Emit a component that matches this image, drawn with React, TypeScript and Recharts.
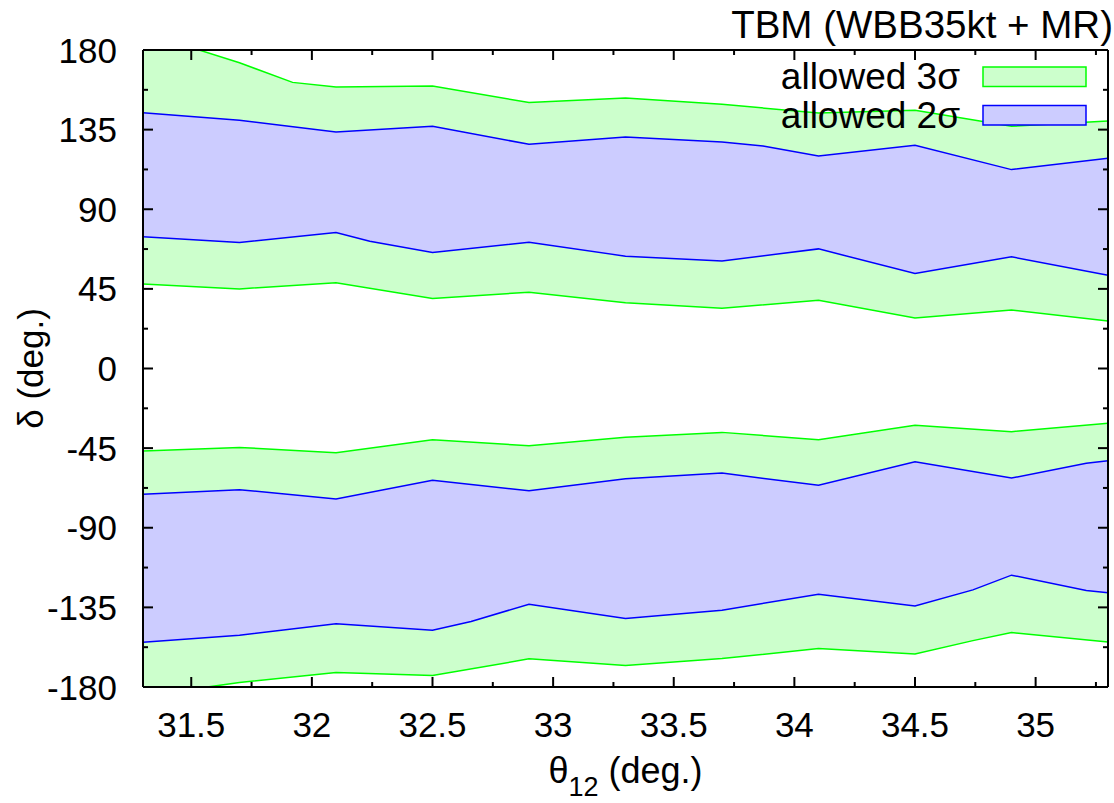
import { ComposedChart, Area, XAxis, YAxis, Legend } from "recharts";

const X_DOMAIN: [number, number] = [31.3, 35.3];
const Y_DOMAIN: [number, number] = [-180, 180];
const X_MAJOR_TICKS = [31.5, 32, 32.5, 33, 33.5, 34, 34.5, 35];
const X_MINOR_TICKS = [31.75, 32.25, 32.75, 33.25, 33.75, 34.25, 34.75, 35.25];
const Y_MAJOR_TICKS = [-180, -135, -90, -45, 0, 45, 90, 135, 180];
const Y_MINOR_TICKS = [-157.5, -112.5, -67.5, -22.5, 22.5, 67.5, 112.5, 157.5];

type Pt = [number, number];

// upper island (delta > 0)
const up3Hi: Pt[] = [
  [31.3, 190], [31.7, 172.8], [31.92, 161.7], [32.1, 159.1], [32.5, 159.6], [32.9, 150.3],
  [33.3, 152.9], [33.7, 149.3], [34.1, 144.4], [34.5, 145.9], [34.9, 136.9], [35.3, 139.9],
];
const up2Hi: Pt[] = [
  [31.3, 144.6], [31.7, 140.3], [32.1, 133.7], [32.5, 136.9], [32.9, 126.7], [33.3, 130.8],
  [33.7, 128.0], [33.87, 125.7], [34.1, 120.1], [34.5, 126.1], [34.9, 112.4], [35.3, 118.8],
];
const up2Lo: Pt[] = [
  [31.3, 74.4], [31.7, 71.2], [32.1, 76.9], [32.24, 71.9], [32.5, 65.6], [32.9, 71.4],
  [33.3, 63.5], [33.7, 60.8], [34.1, 67.6], [34.5, 53.7], [34.9, 63.1], [35.3, 52.7],
];
const up3Lo: Pt[] = [
  [31.3, 47.7], [31.7, 45.0], [32.1, 48.4], [32.5, 39.6], [32.9, 43.1], [33.3, 37.1],
  [33.7, 34.1], [34.1, 38.5], [34.5, 28.6], [34.9, 33.1], [35.3, 26.9],
];

// lower island (delta < 0)
const lo3Hi: Pt[] = [
  [31.3, -46.6], [31.7, -44.6], [32.1, -47.6], [32.5, -40.3], [32.9, -43.6], [33.3, -38.9],
  [33.7, -36.1], [34.1, -40.3], [34.5, -32.1], [34.9, -35.7], [35.3, -31.0],
];
const lo2Hi: Pt[] = [
  [31.3, -71.1], [31.7, -68.5], [32.1, -73.7], [32.5, -63.2], [32.9, -69.1], [33.3, -62.3],
  [33.7, -59.1], [34.1, -66.0], [34.5, -52.7], [34.9, -61.9], [35.21, -53.6], [35.3, -52.1],
];
const lo2Lo: Pt[] = [
  [31.3, -154.7], [31.7, -150.7], [32.1, -144.2], [32.5, -147.9], [32.66, -143.0], [32.9, -133.2],
  [33.3, -141.3], [33.7, -136.6], [34.1, -127.6], [34.5, -134.2], [34.74, -125.1], [34.9, -116.8],
  [35.21, -125.5], [35.3, -126.7],
];
const lo3Lo: Pt[] = [
  [31.3, -185], [31.7, -177.5], [32.1, -171.8], [32.5, -173.5], [32.9, -164.1], [33.3, -167.9],
  [33.7, -163.9], [34.1, -158.3], [34.5, -161.4], [34.74, -153.8], [34.9, -149.2], [35.3, -154.5],
];

const G_FILL = "#ccffcc";
const G_LINE = "#00ff00";
const B_FILL = "#ccccff";
const B_LINE = "#0000ff";

const SERIES: Record<string, Pt[]> = { up3Hi, up2Hi, up2Lo, up3Lo, lo3Lo, lo2Lo, lo2Hi, lo3Hi };

// painted in order, each filled towards delta = base
const LAYERS = [
  { key: "up3Hi", fill: G_FILL, stroke: G_LINE, base: 0 },
  { key: "up2Hi", fill: B_FILL, stroke: B_LINE, base: 0 },
  { key: "up2Lo", fill: G_FILL, stroke: B_LINE, base: 0 },
  { key: "up3Lo", fill: "#ffffff", stroke: G_LINE, base: 0 },
  { key: "lo3Lo", fill: G_FILL, stroke: G_LINE, base: 0 },
  { key: "lo2Lo", fill: B_FILL, stroke: B_LINE, base: 0 },
  { key: "lo2Hi", fill: G_FILL, stroke: B_LINE, base: 0 },
  { key: "lo3Hi", fill: "#ffffff", stroke: G_LINE, base: 5 },
];

const LEGEND = [
  { label: "allowed 3σ", fill: G_FILL, stroke: G_LINE },
  { label: "allowed 2σ", fill: B_FILL, stroke: B_LINE },
];

const TITLE = "TBM (WBB35kt + MR)";

const xs = Array.from(new Set(Object.values(SERIES).flatMap((s) => s.map((p) => p[0])))).sort(
  (a, b) => a - b
);
const data = xs.map((x) => {
  const row: Record<string, number | null> = { x };
  for (const [k, s] of Object.entries(SERIES)) {
    const p = s.find((q) => q[0] === x);
    row[k] = p ? p[1] : null;
  }
  return row;
});

const FONT = "'Liberation Sans', Arial, Helvetica, sans-serif";
const MAJOR_LEN = 10;
const MINOR_LEN = 5;
const Y_GAP = 26;
const X_GAP = 50;

const LeftTick = (props: any) => {
  const { x, y, payload } = props;
  const major = Y_MAJOR_TICKS.includes(payload.value);
  const edge = x + Y_GAP;
  return (
    <g>
      <line x1={edge} x2={edge + (major ? MAJOR_LEN : MINOR_LEN)} y1={y} y2={y} stroke="#000" strokeWidth={2} />
      {major && (
        <text x={x} y={y} dy="0.36em" textAnchor="end" fontSize={35} fill="#000">
          {payload.value}
        </text>
      )}
    </g>
  );
};

const RightTick = (props: any) => {
  const { x, y, payload } = props;
  const major = Y_MAJOR_TICKS.includes(payload.value);
  return <line x1={x} x2={x - (major ? MAJOR_LEN : MINOR_LEN)} y1={y} y2={y} stroke="#000" strokeWidth={2} />;
};

const BottomTick = (props: any) => {
  const { x, y, payload } = props;
  const major = X_MAJOR_TICKS.includes(payload.value);
  const edge = y - X_GAP;
  return (
    <g>
      <line x1={x} x2={x} y1={edge} y2={edge - (major ? MAJOR_LEN : MINOR_LEN)} stroke="#000" strokeWidth={2} />
      {major && (
        <text x={x} y={y} textAnchor="middle" fontSize={35} fill="#000">
          {String(payload.value)}
        </text>
      )}
    </g>
  );
};

const TopTick = (props: any) => {
  const { x, y, payload } = props;
  const major = X_MAJOR_TICKS.includes(payload.value);
  return <line x1={x} x2={x} y1={y} y2={y + (major ? MAJOR_LEN : MINOR_LEN)} stroke="#000" strokeWidth={2} />;
};

const YLabel = (props: any) => {
  const vb = props.viewBox;
  const cx = vb.x + 43;
  const cy = vb.y + vb.height / 2;
  return (
    <text x={cx} y={cy} textAnchor="middle" fontSize={35} fill="#000" transform={`rotate(-90, ${cx}, ${cy})`}>
      δ (deg.)
    </text>
  );
};

const XLabel = (props: any) => {
  const vb = props.viewBox;
  const cx = vb.x + vb.width / 2;
  const cy = vb.y + 96;
  return (
    <text x={cx} y={cy} textAnchor="middle" fontSize={36} fill="#000">
      <tspan>θ</tspan>
      <tspan dy={13} fontSize={27}>12</tspan>
      <tspan dy={-13}> (deg.)</tspan>
    </text>
  );
};

const TopRight = () => (
  <svg width={414} height={140} style={{ fontFamily: FONT, overflow: "visible" }}>
    <text x={413} y={38} textAnchor="end" fontSize={38.5} fill="#000">
      {TITLE}
    </text>
    {LEGEND.map((e, i) => (
      <g key={e.label}>
        <text x={260} y={89 + i * 38.5} textAnchor="end" fontSize={37} fill="#000">
          {e.label}
        </text>
        <rect x={283} y={67 + i * 38.5} width={103} height={19.5} fill={e.fill} stroke={e.stroke} strokeWidth={1.5} />
      </g>
    ))}
  </svg>
);

const axisLine = { stroke: "#000", strokeWidth: 2 };

export default function App() {
  return (
    <div style={{ position: "absolute", left: 0, top: 0, fontFamily: FONT, background: "#fff" }}>
      <ComposedChart width={1114} height={803} data={data} margin={{ top: 0, right: 0, bottom: 0, left: 0 }}>
        {LAYERS.map((l) => (
          <Area
            key={l.key}
            dataKey={l.key}
            type="linear"
            baseValue={l.base}
            connectNulls
            fill={l.fill}
            fillOpacity={1}
            stroke={l.stroke}
            strokeWidth={1.5}
            dot={false}
            activeDot={false}
            isAnimationActive={false}
            legendType="none"
          />
        ))}
        <XAxis
          dataKey="x"
          type="number"
          domain={X_DOMAIN}
          ticks={[...X_MAJOR_TICKS, ...X_MINOR_TICKS].sort((a, b) => a - b)}
          interval={0}
          height={116}
          tickSize={0}
          tickMargin={X_GAP}
          tickLine={false}
          axisLine={axisLine}
          tick={BottomTick}
          label={XLabel}
        />
        <XAxis
          xAxisId="top"
          orientation="top"
          dataKey="x"
          type="number"
          domain={X_DOMAIN}
          ticks={[...X_MAJOR_TICKS, ...X_MINOR_TICKS].sort((a, b) => a - b)}
          interval={0}
          height={50}
          tickSize={0}
          tickMargin={0}
          tickLine={false}
          axisLine={axisLine}
          tick={TopTick}
        />
        <YAxis
          type="number"
          domain={Y_DOMAIN}
          allowDataOverflow
          ticks={[...Y_MAJOR_TICKS, ...Y_MINOR_TICKS].sort((a, b) => a - b)}
          interval={0}
          width={143}
          tickSize={0}
          tickMargin={Y_GAP}
          tickLine={false}
          axisLine={axisLine}
          tick={LeftTick}
          label={YLabel}
        />
        <YAxis
          yAxisId="right"
          orientation="right"
          type="number"
          domain={Y_DOMAIN}
          allowDataOverflow
          ticks={[...Y_MAJOR_TICKS, ...Y_MINOR_TICKS].sort((a, b) => a - b)}
          interval={0}
          width={6}
          tickSize={0}
          tickMargin={0}
          tickLine={false}
          axisLine={axisLine}
          tick={RightTick}
        />
        <Legend
          layout="horizontal"
          verticalAlign="middle"
          align="center"
          content={TopRight}
          wrapperStyle={{ left: 700, top: 0, width: 414, height: 140 }}
        />
      </ComposedChart>
    </div>
  );
}
